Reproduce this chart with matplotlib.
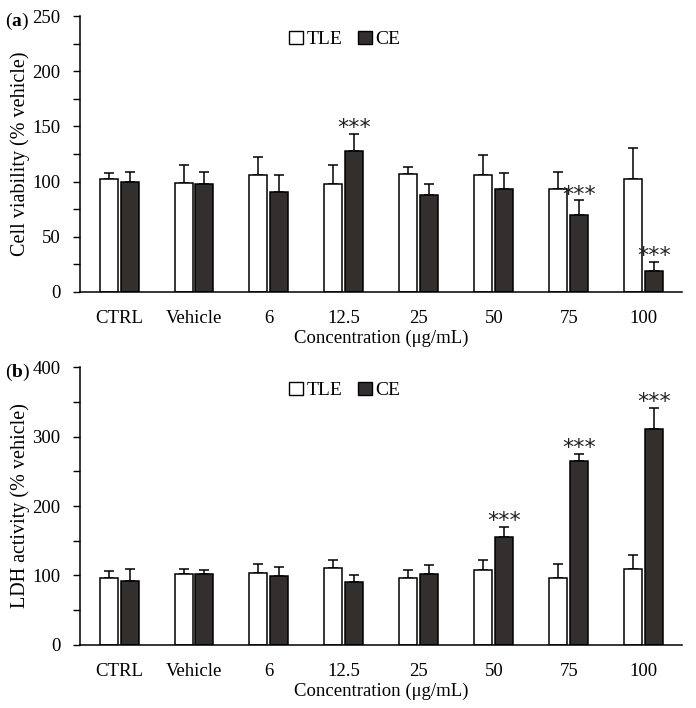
import matplotlib
matplotlib.use("Agg")
import matplotlib.pyplot as plt
from matplotlib.patches import Patch
import numpy as np

categories = ["CTRL", "Vehicle", "6", "12.5", "25", "50", "75", "100"]

# Panel (a) cell viability
via_tle = [102, 99, 106, 98, 107, 106, 93, 102]
via_tle_err = [6, 16, 16, 17, 6, 18, 16, 28]
via_ce = [100, 98, 91, 128, 88, 93, 70, 19]
via_ce_err = [9, 11, 15, 15, 10, 15, 13, 8]
via_sig = ["", "", "", "***", "", "", "***", "***"]

# Panel (b) LDH activity
ldh_tle = [96, 102, 104, 111, 96, 108, 97, 109]
ldh_tle_err = [10, 8, 12, 12, 12, 15, 20, 21]
ldh_ce = [92, 102, 99, 90, 102, 155, 265, 311]
ldh_ce_err = [18, 6, 13, 11, 13, 15, 10, 30]
ldh_sig = ["", "", "", "", "", "***", "***", "***"]

plt.rcParams['font.family'] = ['Liberation Serif', 'DejaVu Serif']
plt.rcParams['mathtext.fontset'] = 'custom'
plt.rcParams['mathtext.bf'] = 'Liberation Serif:bold'
plt.rcParams['mathtext.rm'] = 'Liberation Serif'

fig = plt.figure(figsize=(6.96, 7.08), dpi=100)
ax_a = fig.add_axes([0.115, 0.5876, 0.865, 0.3898])
ax_b = fig.add_axes([0.115, 0.089, 0.865, 0.3926])

x = np.arange(len(categories))
w = 0.24
off = 0.14
dark = "#332f2e"


def draw(ax, tle, tle_err, ce, ce_err, sig, ymax, major, minor, ylabel, tag):
    ax.bar(x - off, tle, w, color="white", edgecolor="black", linewidth=1.1, zorder=2)
    ax.bar(x + off, ce, w, color=dark, edgecolor="black", linewidth=1.1, zorder=2)
    ax.errorbar(x - off, tle, yerr=[np.zeros(len(tle)), tle_err], fmt="none",
                ecolor="black", elinewidth=1.1, capsize=3.5, capthick=1.1, zorder=1)
    ax.errorbar(x + off, ce, yerr=[np.zeros(len(ce)), ce_err], fmt="none",
                ecolor="black", elinewidth=1.1, capsize=3.5, capthick=1.1, zorder=1)
    for i, s in enumerate(sig):
        if s:
            ax.annotate(s, (x[i] + off, ce[i] + ce_err[i]), xytext=(0, -3),
                        textcoords="offset points", ha="center", va="bottom",
                        fontsize=16, family="DejaVu Sans", color="#222222")
    ax.set_xlim(-0.52, 7.51)
    ax.set_ylim(0, ymax)
    ax.set_yticks(np.arange(0, ymax + 1, major))
    ax.set_yticks(np.arange(0, ymax + 1, minor), minor=True)
    ax.tick_params(axis="y", which="major", direction="out", length=5, width=1, labelsize=13.5, pad=9)
    ax.tick_params(axis="y", which="minor", direction="out", length=5, width=1)
    ax.set_xticks(x)
    ax.set_xticklabels(categories)
    ax.tick_params(axis="x", length=0, labelsize=13.5, pad=13)
    for sp in ["top", "right"]:
        ax.spines[sp].set_visible(False)
    ax.spines["left"].set_linewidth(1.1)
    ax.spines["bottom"].set_linewidth(1.1)
    ax.set_xlabel("Concentration (μg/mL)", fontsize=13.5, labelpad=2)
    ax.set_ylabel(ylabel, fontsize=14.5, labelpad=2)
    handles = [Patch(facecolor="white", edgecolor="black", label="TLE"),
               Patch(facecolor=dark, edgecolor="black", label="CE")]
    ax.legend(handles=handles, loc="upper center", bbox_to_anchor=(0.44, 1.01), ncol=2,
              frameon=False, fontsize=14, handlelength=0.7, handleheight=0.7,
              handletextpad=0.2, columnspacing=0.8)
    ax.text(-0.125, 0.98, tag, transform=ax.transAxes, fontsize=14, ha="left", va="center")


draw(ax_a, via_tle, via_tle_err, via_ce, via_ce_err, via_sig, 250, 50, 25,
     "Cell viability (% vehicle)", r"($\mathbf{a}$)")
draw(ax_b, ldh_tle, ldh_tle_err, ldh_ce, ldh_ce_err, ldh_sig, 400, 100, 50,
     "LDH activity (% vehicle)", r"($\mathbf{b}$)")

fig.savefig("out.png", dpi=100)
